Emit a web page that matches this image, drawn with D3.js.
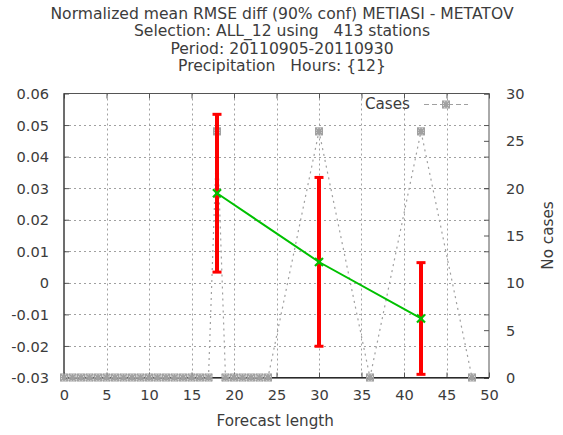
<!DOCTYPE html>
<html>
<head>
<meta charset="utf-8">
<script src="https://cdn.jsdelivr.net/npm/d3@7"></script>
<style>
  body { margin: 0; background: #fff; }
  svg text { font-family: "DejaVu Sans", sans-serif; fill: #3c3c3c; white-space: pre; }
</style>
</head>
<body>
<svg id="chart" width="563" height="435"></svg>
<script>
// Title lines
const titleLines = [
  "Normalized mean RMSE diff (90% conf) METIASI - METATOV",
  "Selection: ALL_12 using   413 stations",
  "Period: 20110905-20110930",
  "Precipitation   Hours: {12}"
];

// Score difference with 90% confidence interval
const leadTimes = [18, 30, 42];
const meanDiff  = [0.0284, 0.0066, -0.0113];
const ciLow     = [0.0034, -0.0201, -0.0290];
const ciHigh    = [0.0534, 0.0334, 0.0064];

// Number of cases per forecast length
const caseHours = [0,1,2,3,4,5,6,7,8,9,10,11,12,13,14,15,16,17,18,19,20,21,22,23,24,30,36,42,48];
const caseCounts = [0,0,0,0,0,0,0,0,0,0,0,0,0,0,0,0,0,0,26,0,0,0,0,0,0,26,0,26,0];

// Axis ticks
const xTicks  = [0,5,10,15,20,25,30,35,40,45,50];
const yTicks  = [-0.03,-0.02,-0.01,0,0.01,0.02,0.03,0.04,0.05,0.06];
const y2Ticks = [0,5,10,15,20,25,30];

const svg = d3.select("#chart");
const L = 64, R = 489, T = 93.5, B = 377.5;

const x  = d3.scaleLinear().domain([0, 50]).range([L, R]);
const y  = d3.scaleLinear().domain([-0.03, 0.06]).range([B, T]);
const y2 = d3.scaleLinear().domain([0, 30]).range([B, T]);

// Titles
svg.selectAll("text.title").data(titleLines).enter().append("text")
  .attr("class", "title")
  .attr("x", 282).attr("y", (d, i) => 18.5 + i * 17.6)
  .attr("text-anchor", "middle")
  .attr("font-size", 15.6)
  .text(d => d);

// Grid
const grid = svg.append("g").attr("stroke", "#a0a0a0").attr("stroke-width", 1)
  .attr("stroke-dasharray", "2,3");
grid.selectAll("line.gx").data(xTicks.slice(1, -1)).enter().append("line")
  .attr("x1", d => Math.round(x(d)) + 0.5).attr("x2", d => Math.round(x(d)) + 0.5)
  .attr("y1", T).attr("y2", B);
grid.selectAll("line.gy").data(yTicks.slice(1, -1)).enter().append("line")
  .attr("y1", d => Math.round(y(d)) + 0.5).attr("y2", d => Math.round(y(d)) + 0.5)
  .attr("x1", L).attr("x2", R);

// Frame
svg.append("rect").attr("x", L).attr("y", T).attr("width", R - L).attr("height", B - T)
  .attr("fill", "none").attr("stroke", "#555").attr("stroke-width", 1);

// Axes
const fmt = d => d === 0 ? "0" : d3.format(".2f")(d).replace("\u2212", "-");
const axL = svg.append("g").attr("transform", `translate(${L},0)`)
  .call(d3.axisLeft(y).tickValues(yTicks).tickFormat(fmt).tickSize(-5).tickPadding(15));
const axB = svg.append("g").attr("transform", `translate(0,${B})`)
  .call(d3.axisBottom(x).tickValues(xTicks).tickFormat(d3.format("d")).tickSize(-5).tickPadding(10));
const axR = svg.append("g").attr("transform", `translate(${R},0)`)
  .call(d3.axisRight(y2).tickValues(y2Ticks).tickSize(-5).tickPadding(17));
const axT = svg.append("g").attr("transform", `translate(0,${T})`)
  .call(d3.axisTop(x).tickValues(xTicks).tickFormat("").tickSize(-5));
const axRm = svg.append("g").attr("transform", `translate(${R},0)`)
  .call(d3.axisRight(y).tickValues(yTicks).tickFormat("").tickSize(-5));
[axL, axB, axR, axT, axRm].forEach(a => {
  a.select(".domain").remove();
  a.selectAll(".tick line").attr("stroke", "#555");
  a.selectAll("text").attr("font-size", 14.6).attr("fill", "#3c3c3c")
    .style("font-family", '"DejaVu Sans", sans-serif');
});
axL.selectAll("text").attr("dy", "0.35em");
axR.selectAll("text").attr("dy", "0.35em");
axB.selectAll("text").attr("dy", "0.85em");

// Darker left and bottom axis lines
svg.append("line").attr("x1", L).attr("x2", L).attr("y1", T).attr("y2", B).attr("stroke", "#333");
svg.append("line").attr("x1", L).attr("x2", R).attr("y1", B + 0.5).attr("y2", B + 0.5).attr("stroke", "#000");

// Axis titles
svg.append("text").attr("x", x(24.85)).attr("y", 426).attr("text-anchor", "middle")
  .attr("font-size", 15.2).text("Forecast length");
svg.append("text").attr("transform", `translate(553,${(T + B) / 2}) rotate(-90)`)
  .attr("text-anchor", "middle").attr("font-size", 15.2).text("No cases");

// Cases line (right axis)
const caseData = caseHours.map((h, i) => [h, caseCounts[i]]);
svg.append("path").datum(caseData)
  .attr("d", d3.line().x(d => x(d[0])).y(d => y2(d[1])))
  .attr("fill", "none").attr("stroke", "#a0a0a0").attr("stroke-width", 1.2)
  .attr("stroke-dasharray", "2,4");

function caseMarker(g, cx, cy) {
  const s = 3.5;
  g.append("path")
    .attr("d", `M${cx - s},${cy - s}L${cx + s},${cy + s}M${cx - s},${cy + s}L${cx + s},${cy - s}M${cx - s},${cy}L${cx + s},${cy}M${cx},${cy - s}L${cx},${cy + s}`)
    .attr("stroke", "#a0a0a0").attr("stroke-width", 1.6).attr("fill", "none");
  g.append("rect").attr("x", cx - s).attr("y", cy - s).attr("width", 2 * s).attr("height", 2 * s)
    .attr("fill", "none").attr("stroke", "#a0a0a0").attr("stroke-width", 1);
}
const cm = svg.append("g");
caseData.forEach(d => caseMarker(cm, x(d[0]), y2(d[1])));

// Error bars
const eb = svg.append("g");
leadTimes.forEach((h, i) => {
  const cx = x(h);
  eb.append("line").attr("x1", cx).attr("x2", cx).attr("y1", y(ciLow[i])).attr("y2", y(ciHigh[i]))
    .attr("stroke", "#ff0000").attr("stroke-width", 4);
  [ciLow[i], ciHigh[i]].forEach(v => {
    eb.append("line").attr("x1", cx - 4.5).attr("x2", cx + 4.5).attr("y1", y(v)).attr("y2", y(v))
      .attr("stroke", "#ff0000").attr("stroke-width", 3);
  });
});

// Mean difference line
svg.append("path").datum(leadTimes.map((h, i) => [h, meanDiff[i]]))
  .attr("d", d3.line().x(d => x(d[0])).y(d => y(d[1])))
  .attr("fill", "none").attr("stroke", "#00c000").attr("stroke-width", 2);
leadTimes.forEach((h, i) => {
  const cx = x(h), cy = y(meanDiff[i]), s = 4;
  svg.append("path")
    .attr("d", `M${cx - s},${cy - s}L${cx + s},${cy + s}M${cx - s},${cy + s}L${cx + s},${cy - s}`)
    .attr("stroke", "#00c000").attr("stroke-width", 2.2);
});

// Legend
svg.append("text").attr("x", 410).attr("y", 109).attr("text-anchor", "end")
  .attr("font-size", 15.2).text("Cases");
svg.append("line").attr("x1", 424).attr("x2", 468).attr("y1", 104.5).attr("y2", 104.5)
  .attr("stroke", "#a0a0a0").attr("stroke-width", 1.2).attr("stroke-dasharray", "5,3");
caseMarker(svg.append("g"), 446, 104.5);
</script>
</body>
</html>
